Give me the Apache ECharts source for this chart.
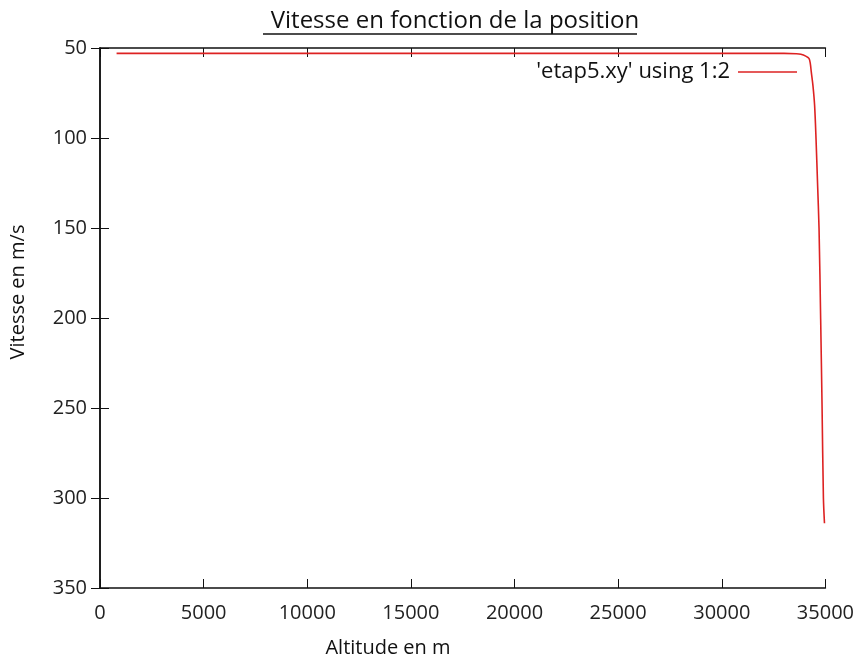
<!DOCTYPE html>
<html>
<head>
<meta charset="utf-8">
<script src="https://cdn.jsdelivr.net/npm/echarts@6/dist/echarts.min.js"></script>
<style>
  html, body { margin: 0; padding: 0; background: #fff; }
</style>
</head>
<body>
<div id="chart" style="width: 857px; height: 660px"></div>
<script>
// altitude (m) et vitesse (m/s)
var altitude = [800, 5000, 10000, 15000, 20000, 25000, 30000, 33000, 33600, 33816, 34050, 34206, 34270, 34318, 34400, 34479, 34547, 34620, 34693, 34771, 34839, 34903, 34955];
var vitesse = [53, 53, 53, 53, 53, 53, 53, 53, 53.2, 53.5, 54.5, 55.8, 58.5, 63.3, 71, 81.9, 100.4, 125, 150.6, 200.7, 249.7, 299.9, 314];
var xTicks = [0, 35000, 5000];
var yTicks = [50, 350, 50];
var serieNom = "'etap5.xy' using 1:2";

var fontFam = "'Open Sans', 'DejaVu Sans', sans-serif";
var chart = echarts.init(document.getElementById("chart"));

var points = altitude.map(function (a, i) { return [a, vitesse[i]]; });

var option = {
  animation: false,
  backgroundColor: "#fff",
  title: {
    text: "Vitesse en fonction de la position",
    left: 450,
    textAlign: "center",
    top: 4,
    textStyle: { fontFamily: fontFam, fontSize: 24, fontWeight: "normal", color: "#111" }
  },
  graphic: [
    // soulignement du titre
    {
      type: "line",
      shape: { x1: 263, y1: 34, x2: 637, y2: 34 },
      style: { stroke: "#111", lineWidth: 1.3 }
    },
    // titre de l'axe des ordonnées
    {
      type: "text",
      x: 18,
      y: 292,
      rotation: Math.PI / 2,
      style: {
        text: "Vitesse en m/s",
        fontFamily: fontFam,
        fontSize: 20,
        fill: "#111",
        align: "center",
        verticalAlign: "middle"
      }
    },
    // titre de l'axe des abscisses
    {
      type: "text",
      x: 388,
      y: 648,
      style: {
        text: "Altitude en m",
        fontFamily: fontFam,
        fontSize: 20,
        fill: "#111",
        align: "center",
        verticalAlign: "middle"
      }
    }
  ],
  legend: {
    data: [serieNom],
    right: 55,
    top: 56,
    align: "right",
    icon: "rect",
    itemWidth: 59,
    itemHeight: 1.5,
    itemGap: 8,
    textStyle: { fontFamily: fontFam, fontSize: 22, color: "#111", padding: [0, 3, 0, 0] }
  },
  grid: { left: 100, right: 31, top: 48, bottom: 72 },
  xAxis: [
    {
      type: "value",
      min: xTicks[0], max: xTicks[1], interval: xTicks[2],
      axisLine: { show: true, lineStyle: { color: "#111", width: 1.5 } },
      axisTick: { show: true, inside: true, length: 9, lineStyle: { color: "#111" } },
      axisLabel: { fontFamily: fontFam, fontSize: 20, color: "#222", margin: 15, formatter: function (v) { return String(v); } },
      splitLine: { show: false }
    },
    {
      type: "value",
      position: "top",
      min: xTicks[0], max: xTicks[1], interval: xTicks[2],
      axisLine: { show: true, lineStyle: { color: "#111", width: 1.5 } },
      axisTick: { show: true, inside: true, length: 9, lineStyle: { color: "#111" } },
      axisLabel: { show: false },
      splitLine: { show: false }
    }
  ],
  yAxis: [
    {
      type: "value",
      inverse: true,
      min: yTicks[0], max: yTicks[1], interval: yTicks[2],
      axisLine: { show: true, lineStyle: { color: "#111", width: 1.5 } },
      axisTick: { show: true, inside: true, length: 9, lineStyle: { color: "#111" } },
      axisLabel: { fontFamily: fontFam, fontSize: 20, color: "#222", margin: 13 },
      splitLine: { show: false }
    },
    {
      type: "value",
      position: "right",
      inverse: true,
      min: yTicks[0], max: yTicks[1], interval: yTicks[2],
      axisLine: { show: true, lineStyle: { color: "#111", width: 1.5 } },
      axisTick: { show: true, inside: true, length: 9, lineStyle: { color: "#111" } },
      axisLabel: { show: false },
      splitLine: { show: false }
    }
  ],
  series: [
    {
      name: serieNom,
      type: "line",
      xAxisIndex: 0,
      yAxisIndex: 0,
      data: points,
      smooth: 0.3,
      showSymbol: false,
      symbol: "none",
      lineStyle: { color: "#dd2222", width: 1.6 },
      itemStyle: { color: "#dd2222" }
    }
  ]
};

chart.setOption(option);
</script>
</body>
</html>
